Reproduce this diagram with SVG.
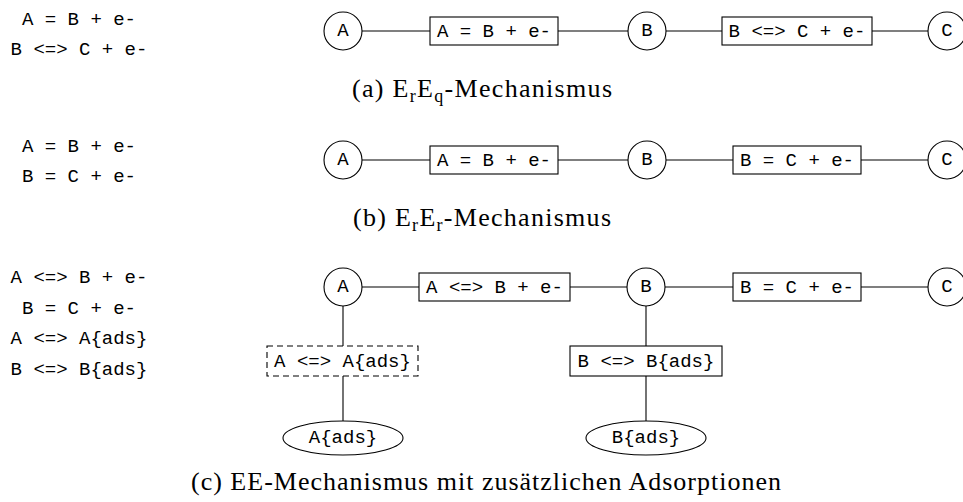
<svg xmlns="http://www.w3.org/2000/svg" width="963" height="502" viewBox="0 0 963 502">
<style>
.n{fill:#fff;stroke:#000;stroke-width:1.1}
.d{fill:#fff;stroke:#000;stroke-width:1.1;stroke-dasharray:6 4}
.t{font-family:"Liberation Mono","DejaVu Sans Mono",monospace;font-size:19px;fill:#000;text-anchor:middle;dominant-baseline:central}
.l{font-family:"Liberation Mono","DejaVu Sans Mono",monospace;font-size:19px;fill:#000;text-anchor:middle}
.c{font-family:"Liberation Serif","DejaVu Serif",serif;font-size:26px;fill:#000;text-anchor:middle}
.s{font-size:18px}
.e line{stroke:#000;stroke-width:1.1}
</style>
<g id="eqs-a"><text class="l" x="79" y="24.5">A = B + e-</text><text class="l" x="79" y="54.5">B &lt;=&gt; C + e-</text></g>
<g id="eqs-b"><text class="l" x="79" y="152">A = B + e-</text><text class="l" x="79" y="182">B = C + e-</text></g>
<g id="eqs-c"><text class="l" x="79" y="283">A &lt;=&gt; B + e-</text><text class="l" x="79" y="314">B = C + e-</text><text class="l" x="79" y="344">A &lt;=&gt; A{ads}</text><text class="l" x="79" y="375">B &lt;=&gt; B{ads}</text></g>
<g class="e" id="connectors">
<line x1="362" y1="31" x2="430" y2="31"/><line x1="558" y1="31" x2="628" y2="31"/><line x1="666" y1="31" x2="722" y2="31"/><line x1="872" y1="31" x2="928" y2="31"/>
<line x1="362" y1="160" x2="430" y2="160"/><line x1="558" y1="160" x2="628" y2="160"/><line x1="666" y1="160" x2="733" y2="160"/><line x1="861" y1="160" x2="928" y2="160"/>
<line x1="362" y1="287" x2="419" y2="287"/><line x1="570" y1="287" x2="627" y2="287"/><line x1="665" y1="287" x2="733" y2="287"/><line x1="861" y1="287" x2="928" y2="287"/>
<line x1="343" y1="306" x2="343" y2="346"/><line x1="343" y1="376" x2="343" y2="421"/>
<line x1="646" y1="306" x2="646" y2="346"/><line x1="646" y1="376" x2="646" y2="421"/>
</g>
<g id="a-A"><circle class="n" cx="343" cy="31" r="19"/><text class="t" x="343" y="31">A</text></g>
<g id="a-r1"><rect class="n" x="430" y="17" width="128" height="28"/><text class="t" x="494" y="31.5">A = B + e-</text></g>
<g id="a-B"><circle class="n" cx="647" cy="31" r="19"/><text class="t" x="647" y="31">B</text></g>
<g id="a-r2"><rect class="n" x="722" y="17" width="150" height="28"/><text class="t" x="797" y="31.5">B &lt;=&gt; C + e-</text></g>
<g id="a-C"><circle class="n" cx="947" cy="31" r="19"/><text class="t" x="947" y="31">C</text></g>
<text class="c" x="482" y="97" textLength="260">(a) E<tspan class="s" dy="5">r</tspan><tspan dy="-5">E</tspan><tspan class="s" dy="5">q</tspan><tspan dy="-5">-Mechanismus</tspan></text>

<g id="b-A"><circle class="n" cx="343" cy="160" r="19"/><text class="t" x="343" y="160">A</text></g>
<g id="b-r1"><rect class="n" x="430" y="146" width="128" height="28"/><text class="t" x="494" y="160.5">A = B + e-</text></g>
<g id="b-B"><circle class="n" cx="647" cy="160" r="19"/><text class="t" x="647" y="160">B</text></g>
<g id="b-r2"><rect class="n" x="733" y="146" width="128" height="28"/><text class="t" x="797" y="160.5">B = C + e-</text></g>
<g id="b-C"><circle class="n" cx="947" cy="160" r="19"/><text class="t" x="947" y="160">C</text></g>
<text class="c" x="482" y="226" textLength="258">(b) E<tspan class="s" dy="5">r</tspan><tspan dy="-5">E</tspan><tspan class="s" dy="5">r</tspan><tspan dy="-5">-Mechanismus</tspan></text>

<g id="c-A"><circle class="n" cx="343" cy="287" r="19"/><text class="t" x="343" y="287">A</text></g>
<g id="c-r1"><rect class="n" x="419" y="273" width="151" height="28"/><text class="t" x="494.5" y="287.5">A &lt;=&gt; B + e-</text></g>
<g id="c-B"><circle class="n" cx="646" cy="287" r="19"/><text class="t" x="646" y="287">B</text></g>
<g id="c-r2"><rect class="n" x="733" y="273" width="128" height="28"/><text class="t" x="797" y="287.5">B = C + e-</text></g>
<g id="c-C"><circle class="n" cx="947" cy="287" r="19"/><text class="t" x="947" y="287">C</text></g>
<g id="c-r3"><rect class="d" x="267" y="346" width="151" height="30"/><text class="t" x="342.5" y="361.5">A &lt;=&gt; A{ads}</text></g>
<g id="c-r4"><rect class="n" x="570" y="346" width="152" height="30"/><text class="t" x="646" y="361.5">B &lt;=&gt; B{ads}</text></g>
<g id="c-Aads"><ellipse class="n" cx="343" cy="438" rx="60" ry="17"/><text class="t" x="343" y="438">A{ads}</text></g>
<g id="c-Bads"><ellipse class="n" cx="646" cy="438" rx="60" ry="17"/><text class="t" x="646" y="438">B{ads}</text></g>
<text class="c" x="486" y="490" textLength="590">(c) EE-Mechanismus mit zusätzlichen Adsorptionen</text>
</svg>
